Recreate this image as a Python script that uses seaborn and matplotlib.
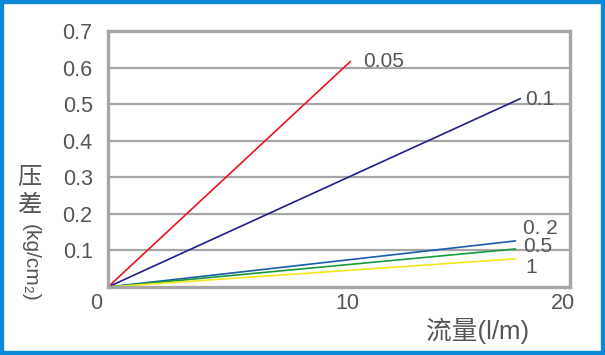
import matplotlib
matplotlib.use("Agg")
import matplotlib.pyplot as plt
import matplotlib.transforms as mtransforms
from matplotlib.patches import Rectangle
import seaborn as sns
import pandas as pd

# ---- data ----
series_names = ["0.05", "0.1", "0.2", "0.5", "1"]
series_labels = ["0.05", "0.1", "0. 2", "0.5", "1"]
flow_end = [10.0, 17.0, 16.8, 16.8, 16.8]          # l/m at line end
dp_end = [0.617, 0.515, 0.126, 0.104, 0.077]        # kg/cm2 at line end
colors = ["#e8141f", "#1f1f8c", "#1a5ca8", "#179a3e", "#f4e81c"]
y_ticks = [0.1, 0.2, 0.3, 0.4, 0.5, 0.6, 0.7]
x_tick_labels = ["0", "10", "20"]

rows = []
for name, xe, ye in zip(series_names, flow_end, dp_end):
    rows.append({"series": name, "flow": 0.0, "dp": 0.0})
    rows.append({"series": name, "flow": xe, "dp": ye})
df = pd.DataFrame(rows)

sns.set_style("white")
plt.rcParams["font.family"] = ["Liberation Sans", "Noto Sans CJK SC", "DejaVu Sans"]

fig = plt.figure(figsize=(6.05, 3.55), dpi=100)
ax = fig.add_axes([108 / 605, 1 - 287 / 355, (570 - 108) / 605, (287 - 31) / 355])

sns.lineplot(data=df, x="flow", y="dp", hue="series", hue_order=series_names,
             palette=dict(zip(series_names, colors)), linewidth=1.2,
             legend=False, ax=ax, estimator=None, sort=False)

XMAX = 19.05
ax.set_xlim(0, XMAX)
ax.set_ylim(0, 0.7)

gray = "#a6a6a6"
txt = "#555555"
for sp in ax.spines.values():
    sp.set_visible(True)
    sp.set_color(gray)
    sp.set_linewidth(2.4)

for v in y_ticks[:-1]:
    ax.axhline(v, color=gray, linewidth=1.6, zorder=0.5)

ax.set_yticks(y_ticks)
ax.set_yticklabels([f"{v:.1f}" for v in y_ticks])
ax.tick_params(axis="y", length=0, pad=11, labelsize=15.5, labelcolor=txt)

ax.set_xticks([0, 10, XMAX])
ax.set_xticklabels(x_tick_labels)
ax.tick_params(axis="x", direction="in", length=7, width=2.4, color=gray,
               pad=4, labelsize=15.5, labelcolor=txt)
offs = [-12, -3, -7]
for lab, dx in zip(ax.get_xticklabels(), offs):
    lab.set_transform(lab.get_transform() +
                      mtransforms.ScaledTranslation(dx / 100, 0, fig.dpi_scale_trans))

ax.set_xlabel("")
ax.set_ylabel("")

# line labels
label_pos = [(10.5, 0.617), (17.2, 0.512), (17.1, 0.160), (17.1, 0.112), (17.2, 0.054)]
for lab, (lx, ly) in zip(series_labels, label_pos):
    ax.text(lx, ly, lab, fontsize=15, color=txt, ha="left", va="center")

# axis titles
fig.text(426 / 605, 1 - 331 / 355, "流量(l/m)", fontsize=18.5, color=txt,
         ha="left", va="center")
fig.text(29 / 605, 1 - 178 / 355, "压", fontsize=17.5, color=txt, ha="center", va="center")
fig.text(29 / 605, 1 - 206 / 355, "差", fontsize=17.5, color=txt, ha="center", va="center")
fig.text(30 / 605, 1 - 263 / 355, "(kg/cm₂)", fontsize=15, color=txt,
         ha="center", va="center", rotation=-90)

fig.patches.append(Rectangle((0, 0), 1, 1, transform=fig.transFigure, fill=False,
                             edgecolor="#0a8ad6", linewidth=6, clip_on=False))

fig.savefig("out.png", dpi=100)
